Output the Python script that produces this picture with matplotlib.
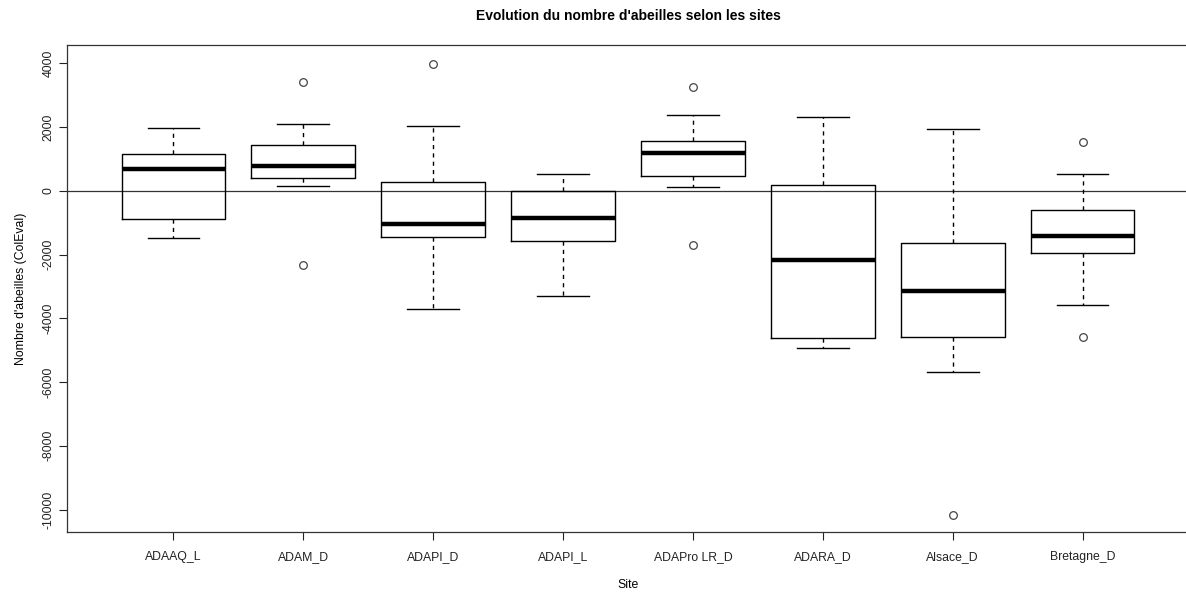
import numpy as np
import matplotlib
matplotlib.use("Agg")
import matplotlib.pyplot as plt

# valeurs (boxplot R)
sites = ["ADAAQ_L", "ADAM_D", "ADAPI_D", "ADAPI_L", "ADAPro LR_D",
         "ADARA_D", "Alsace_D", "Bretagne_D"]
whislo = [-1495, 145, -3712, -3313, 135, -4922, -5696, -3596]
q1 = [-900, 407, -1442, -1567, 470, -4608, -4577, -1966]
med = [690, 784, -1056, -846, 1200, -2163, -3157, -1433]
q3 = [1147, 1451, 282, 5, 1555, 188, -1630, -596]
whishi = [1975, 2100, 2025, 533, 2382, 2307, 1953, 533]
fliers = [[], [3404, -2320], [3981], [], [3270, -1693], [], [-10157], [1524, -4589]]
yticks = [-10000, -8000, -6000, -4000, -2000, 0, 2000, 4000]

plt.rcParams['font.family'] = ['Liberation Sans', 'DejaVu Sans']

fig = plt.figure(figsize=(11.86, 5.92), dpi=100)
ax = fig.add_axes([67 / 1186, 0.1008, (1189 - 67) / 1186, 0.9235 - 0.1008])

stats = []
for i in range(len(sites)):
    stats.append(dict(label=sites[i], whislo=whislo[i], q1=q1[i], med=med[i],
                      q3=q3[i], whishi=whishi[i], fliers=fliers[i]))

ax.bxp(stats, positions=np.arange(1, 9), widths=0.8, capwidths=0.4,
       boxprops=dict(color='black', linewidth=1),
       medianprops=dict(color='black', linewidth=3.2, solid_capstyle='butt'),
       whiskerprops=dict(color='black', linewidth=1, linestyle=(0, (3, 3))),
       capprops=dict(color='black', linewidth=1),
       flierprops=dict(marker='o', markersize=5.5, markerfacecolor='none',
                       markeredgecolor='#444444', markeredgewidth=0.9))

# ligne horizontale a zero
ax.axhline(0, color='#333333', linewidth=0.9, zorder=0)

ax.set_xlim(0.18, 8.82)
ax.set_ylim(-10716, 4566)
ax.set_yticks(yticks)
ax.set_yticklabels([str(v) for v in yticks], rotation=90, va='center')
ax.tick_params(axis='both', length=5.8, width=0.8, labelsize=8.8, colors='#222222')
ax.tick_params(axis='y', pad=3)
ax.tick_params(axis='x', pad=8)

for s in ax.spines.values():
    s.set_linewidth(0.9)
    s.set_color('#333333')

ax.set_title("Evolution du nombre d'abeilles selon les sites", fontsize=10,
             fontweight='bold', pad=18)
ax.set_xlabel("Site", fontsize=8.8, labelpad=11)
ax.set_ylabel("Nombre d'abeilles (ColEval)", fontsize=8.8, labelpad=11)

fig.savefig("out.png", dpi=100)
